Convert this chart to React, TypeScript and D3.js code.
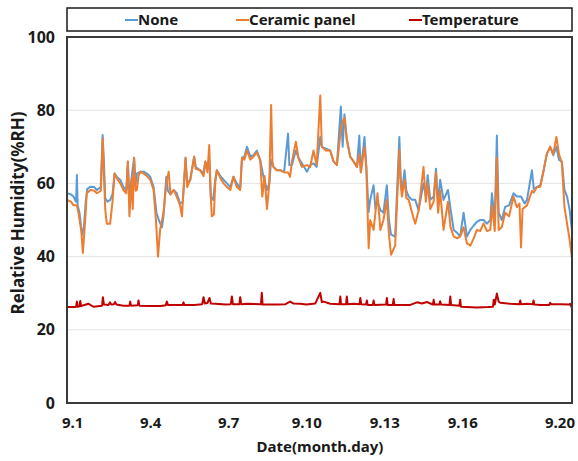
import React, { useRef, useEffect } from 'react';
import * as d3 from 'd3';

// [day of September, value]
const noneRH: [number, number][] = [
  [0.80, 57.3], [0.95, 57], [1.05, 56.4], [1.15, 55], [1.18, 62.3], [1.21, 54], [1.28, 52], [1.38, 46],
  [1.45, 48], [1.52, 55], [1.58, 58.5], [1.70, 59.1], [1.85, 59], [1.95, 58.2], [2.10, 59], [2.17, 73.2],
  [2.22, 66], [2.27, 56], [2.36, 55], [2.46, 55.5], [2.55, 57], [2.63, 62.7], [2.75, 61.5], [2.85, 61],
  [2.97, 59], [3.08, 58.2], [3.14, 66], [3.20, 56], [3.29, 62], [3.38, 67], [3.44, 60], [3.49, 62.7],
  [3.62, 63.2], [3.75, 63.2], [3.87, 62.7], [4.00, 61.8], [4.13, 59], [4.24, 52], [4.33, 50], [4.45, 48],
  [4.51, 50.9], [4.62, 61.8], [4.68, 58], [4.78, 57], [4.90, 58.2], [5.02, 57.3], [5.15, 54.5], [5.25, 55],
  [5.28, 58], [5.36, 67], [5.42, 60], [5.54, 61], [5.69, 67.3], [5.75, 64.5], [5.92, 63.6], [6.05, 62.7],
  [6.12, 66], [6.20, 64], [6.27, 66], [6.33, 56.4], [6.42, 55.5], [6.50, 61], [6.56, 63.6], [6.70, 62],
  [6.82, 61], [6.95, 60], [7.08, 59], [7.20, 61.8], [7.33, 60], [7.46, 58.6], [7.53, 67], [7.62, 67.3],
  [7.72, 70], [7.85, 67.3], [7.97, 67.7], [8.10, 69], [8.23, 66.4], [8.35, 62], [8.49, 58.2], [8.58, 60],
  [8.65, 66.4], [8.74, 64.5], [8.87, 63.6], [9.00, 63.6], [9.15, 63.2], [9.30, 73.6], [9.35, 65], [9.45, 65],
  [9.60, 69], [9.70, 67], [9.83, 65.5], [10.03, 63.2], [10.15, 65], [10.28, 65.5], [10.40, 64.5], [10.54, 72.7],
  [10.60, 70], [10.75, 69.5], [10.92, 69], [11.05, 66], [11.18, 65], [11.33, 81], [11.40, 70], [11.47, 78.9],
  [11.56, 72], [11.69, 67.3], [11.82, 66], [11.95, 64.5], [12.04, 73.1], [12.10, 63.2], [12.24, 72.7], [12.31, 64.5],
  [12.40, 52.2], [12.46, 55.5], [12.59, 59.5], [12.66, 53], [12.74, 55], [12.85, 52.7], [12.97, 52], [13.10, 59.5],
  [13.18, 50], [13.26, 46], [13.42, 45.5], [13.58, 72.7], [13.63, 62], [13.68, 57.3], [13.78, 63.6], [13.85, 58],
  [13.94, 56.4], [14.07, 55.5], [14.19, 55.5], [14.32, 52.7], [14.51, 60], [14.60, 56.4], [14.67, 62.3], [14.77, 55.5],
  [14.90, 56.4], [14.99, 64], [15.07, 54.5], [15.15, 61], [15.28, 55.5], [15.45, 58.2], [15.55, 53], [15.67, 47.3],
  [15.80, 46.5], [15.92, 45.5], [16.05, 52], [16.18, 45.5], [16.31, 47.3], [16.44, 48.5], [16.56, 49.5], [16.69, 50],
  [16.82, 50], [16.95, 49], [17.08, 50], [17.14, 57.3], [17.25, 50], [17.33, 73.1], [17.40, 52], [17.52, 50],
  [17.65, 53.6], [17.80, 54], [17.97, 57.3], [18.10, 56.4], [18.26, 56.4], [18.40, 54.5], [18.49, 55.5], [18.68, 63.6],
  [18.75, 58.5], [18.87, 59], [19.00, 59.5], [19.13, 63.6], [19.25, 68], [19.38, 70], [19.50, 67.7], [19.62, 70],
  [19.72, 66.4], [19.83, 66], [19.93, 58.2], [20.03, 56.4], [20.13, 52.7], [20.22, 47],
];

const ceramicRH: [number, number][] = [
  [0.80, 55.5], [0.95, 55], [1.05, 54], [1.18, 54], [1.24, 52], [1.35, 47], [1.41, 41], [1.50, 50],
  [1.56, 57.3], [1.70, 58.2], [1.85, 58], [1.95, 57.3], [2.10, 58], [2.17, 72.3], [2.22, 62], [2.27, 53],
  [2.33, 49], [2.46, 49], [2.55, 55], [2.63, 62.7], [2.75, 61], [2.85, 60], [2.97, 58.2], [3.08, 57.3],
  [3.14, 66], [3.20, 51], [3.29, 61.5], [3.33, 53], [3.38, 67], [3.44, 58], [3.49, 58.2], [3.55, 62],
  [3.62, 63.2], [3.75, 62.7], [3.87, 62], [4.00, 61], [4.13, 58.2], [4.22, 50], [4.30, 40], [4.38, 47.3],
  [4.51, 52], [4.62, 60], [4.71, 63.2], [4.78, 57], [4.90, 58.2], [5.02, 56.4], [5.15, 54], [5.22, 51],
  [5.28, 58], [5.36, 67], [5.42, 59], [5.54, 61], [5.69, 67.3], [5.75, 64], [5.92, 63.6], [6.05, 62],
  [6.12, 66], [6.20, 63], [6.27, 70.5], [6.33, 56], [6.37, 51], [6.45, 51.5], [6.50, 60], [6.56, 63.6],
  [6.70, 61.5], [6.82, 60], [6.95, 59], [7.08, 58.2], [7.20, 61.8], [7.33, 59], [7.46, 58.2], [7.53, 67],
  [7.62, 66.5], [7.72, 69], [7.85, 66.5], [7.97, 67.3], [8.10, 68.5], [8.23, 66.4], [8.31, 56.4], [8.40, 62],
  [8.49, 53], [8.58, 60], [8.65, 81.4], [8.70, 66], [8.74, 64.5], [8.87, 63.6], [9.00, 63.6], [9.15, 63],
  [9.30, 63], [9.38, 61.8], [9.45, 66], [9.60, 71.4], [9.70, 67], [9.83, 64.5], [10.03, 65], [10.15, 64.5],
  [10.28, 69], [10.40, 65], [10.47, 74.5], [10.54, 84], [10.60, 70], [10.75, 69], [10.92, 69], [11.05, 66],
  [11.18, 65], [11.35, 76], [11.47, 78], [11.56, 72], [11.69, 67.3], [11.82, 66], [11.95, 64.5], [12.04, 68],
  [12.10, 63], [12.24, 70], [12.31, 64.5], [12.40, 42.3], [12.46, 50], [12.59, 47.3], [12.74, 57.3], [12.85, 47.3],
  [12.97, 50], [13.10, 55.5], [13.18, 46], [13.26, 40.5], [13.42, 43], [13.58, 69.1], [13.63, 60], [13.68, 56.4],
  [13.78, 61], [13.85, 56], [13.94, 55.5], [14.07, 52], [14.19, 49], [14.32, 52.5], [14.51, 64.5], [14.60, 55],
  [14.67, 60], [14.77, 53], [14.90, 55], [14.99, 63], [15.07, 52], [15.15, 58], [15.28, 47.3], [15.45, 55],
  [15.55, 48], [15.67, 45.5], [15.80, 45], [15.92, 45.5], [16.05, 48], [16.18, 43.6], [16.31, 43], [16.44, 45],
  [16.56, 47.3], [16.69, 47], [16.82, 49.1], [16.95, 47], [17.08, 47.3], [17.14, 54], [17.25, 47], [17.33, 67],
  [17.40, 47.3], [17.52, 48], [17.65, 52], [17.80, 51], [17.97, 56.4], [18.10, 53.5], [18.20, 54.5], [18.26, 42.5],
  [18.32, 53], [18.49, 54], [18.68, 58], [18.75, 57.5], [18.87, 59], [19.00, 59.1], [19.13, 63.6], [19.25, 68],
  [19.38, 70], [19.50, 68], [19.62, 72.7], [19.72, 68], [19.83, 65.5], [19.93, 53.6], [20.03, 49], [20.13, 44.5],
  [20.22, 39.5],
];

const temperature: [number, number][] = [
  [0.80, 26.2], [1.10, 26.2], [1.15, 26.3], [1.18, 27.7], [1.21, 26.3], [1.28, 26.4], [1.31, 27.9], [1.34, 26.5],
  [1.63, 27.1], [1.82, 26.3], [2.15, 26.6], [2.18, 28.9], [2.22, 26.9], [2.40, 26.8], [2.45, 27.5], [2.50, 26.9],
  [2.60, 27.0], [2.65, 27.6], [2.70, 26.9], [2.97, 26.6], [3.20, 26.6], [3.23, 27.7], [3.26, 26.6], [3.52, 26.7],
  [3.55, 28.0], [3.58, 26.6], [4.0, 26.5], [4.4, 26.5], [4.6, 26.7], [4.64, 27.7], [4.68, 26.8], [5.0, 26.8],
  [5.25, 26.8], [5.28, 27.5], [5.31, 26.8], [5.7, 26.8], [6.0, 27.0], [6.05, 28.9], [6.10, 27.2], [6.20, 27.3],
  [6.28, 28.7], [6.33, 27.2], [6.50, 27.1], [6.90, 26.9], [7.10, 27.0], [7.14, 29.1], [7.18, 27.0], [7.43, 27.0],
  [7.46, 28.9], [7.50, 27.0], [7.72, 27.1], [8.26, 27.0], [8.29, 30.1], [8.32, 26.9], [8.87, 26.9], [9.20, 27.0],
  [9.38, 27.7], [9.50, 27.2], [9.77, 27.1], [10.0, 26.9], [10.35, 27.2], [10.54, 30.1], [10.60, 27.6], [10.67, 27.7],
  [10.92, 27.1], [11.28, 27.0], [11.31, 29.1], [11.34, 27.0], [11.53, 27.0], [11.56, 29.1], [11.59, 27.0], [11.82, 27.1],
  [12.05, 27.0], [12.08, 28.7], [12.11, 27.0], [12.30, 26.9], [12.33, 28.0], [12.36, 26.8], [12.56, 26.8], [12.59, 28.0],
  [12.62, 26.8], [13.07, 26.9], [13.10, 28.7], [13.13, 26.8], [13.33, 26.8], [13.36, 28.4], [13.39, 26.8], [13.62, 26.8],
  [14.0, 26.8], [14.26, 27.5], [14.45, 27.2], [14.64, 27.6], [14.87, 26.9], [14.90, 28.2], [14.93, 26.9], [15.12, 26.9],
  [15.15, 27.8], [15.18, 26.9], [15.51, 26.8], [15.54, 29.1], [15.57, 26.8], [15.89, 26.6], [15.92, 28.2], [15.95, 26.3],
  [16.56, 26.1], [17.0, 26.2], [17.18, 26.3], [17.21, 28.2], [17.25, 26.9], [17.33, 29.9], [17.40, 27.7], [17.46, 27.4],
  [17.85, 27.1], [18.20, 27.0], [18.23, 28.0], [18.26, 27.0], [18.49, 27.1], [18.71, 27.0], [18.74, 28.0], [18.77, 26.9],
  [19.00, 26.8], [19.35, 26.8], [19.38, 27.4], [19.42, 27.0], [19.77, 27.0], [20.12, 26.9], [20.15, 27.1], [20.22, 25.9],
];

const xTicks = [1, 4, 7, 10, 13, 16, 20];
const yTicks = [0, 20, 40, 60, 80, 100];
const seriesNames = ["None", "Ceramic panel", "Temperature"];
const seriesColors = ["#5b9bd5", "#ed7d31", "#c00000"];

const FONT = "'Noto Sans', 'Open Sans', sans-serif";

function HumidityChart() {
  const svgRef = useRef<SVGSVGElement>(null);

  useEffect(() => {
    const svg = d3.select(svgRef.current);
    svg.selectAll("*").remove();

    const width = 578;
    const height = 461;
    const margin = { top: 37, right: 6, bottom: 58, left: 67 };

    const x = d3.scaleLinear()
      .domain([0.8, 20.22])
      .range([margin.left, width - margin.right]);

    const y = d3.scaleLinear()
      .domain([0, 100])
      .range([height - margin.bottom, margin.top]);

    svg.attr("width", width).attr("height", height);

    // gridlines
    svg.append("g")
      .selectAll("line")
      .data(yTicks.filter(t => t > 0 && t < 100))
      .enter()
      .append("line")
      .attr("x1", x.range()[0])
      .attr("x2", x.range()[1])
      .attr("y1", d => y(d))
      .attr("y2", d => y(d))
      .attr("stroke", "#e3e3e3")
      .attr("stroke-width", 1);

    const line = d3.line<[number, number]>()
      .x(d => x(d[0]))
      .y(d => y(d[1]));

    [noneRH, ceramicRH, temperature].forEach((s, i) => {
      svg.append("path")
        .datum(s)
        .attr("fill", "none")
        .attr("stroke", seriesColors[i])
        .attr("stroke-width", 2)
        .attr("stroke-linejoin", "round")
        .attr("d", line);
    });

    // plot frame
    svg.append("rect")
      .attr("x", x.range()[0])
      .attr("y", y(100))
      .attr("width", x.range()[1] - x.range()[0])
      .attr("height", y(0) - y(100))
      .attr("fill", "none")
      .attr("stroke", "#3a3a3a")
      .attr("stroke-width", 2);

    const yAxis = svg.append("g")
      .attr("transform", `translate(${margin.left}, 0)`)
      .call(d3.axisLeft(y).tickValues(yTicks).tickSize(0).tickPadding(12));
    yAxis.select(".domain").remove();
    yAxis.selectAll("text")
      .style("font-family", FONT)
      .style("font-size", "16px")
      .style("font-weight", "bold")
      .attr("fill", "#1a1a1a");

    const xAxis = svg.append("g")
      .attr("transform", `translate(0, ${height - margin.bottom})`)
      .call(d3.axisBottom(x).tickValues(xTicks).tickSize(0).tickPadding(14)
        .tickFormat(d => `9.${d}`));
    xAxis.select(".domain").remove();
    xAxis.selectAll("text")
      .style("font-family", FONT)
      .style("font-size", "15px")
      .style("font-weight", "bold")
      .attr("fill", "#1a1a1a")
      .attr("dx", (d, i) => (i === xTicks.length - 1 ? "-0.45em" : "0"));

    svg.append("text")
      .attr("x", 320)
      .attr("y", 452)
      .attr("text-anchor", "middle")
      .style("font-family", FONT)
      .style("font-size", "15px")
      .style("font-weight", "bold")
      .attr("fill", "#1a1a1a")
      .text("Date(month.day)");

    svg.append("text")
      .attr("x", -213)
      .attr("y", 24)
      .attr("transform", "rotate(-90)")
      .attr("text-anchor", "middle")
      .style("font-family", FONT)
      .style("font-size", "17px")
      .style("font-weight", "bold")
      .attr("fill", "#1a1a1a")
      .text("Relative Humidity(%RH)");

    // legend
    svg.append("rect")
      .attr("x", 67)
      .attr("y", 8)
      .attr("width", 505)
      .attr("height", 23)
      .attr("fill", "white")
      .attr("stroke", "#1a1a1a")
      .attr("stroke-width", 1.5);

    const legendX = [125, 236, 409];
    seriesNames.forEach((name, i) => {
      const g = svg.append("g").attr("transform", `translate(${legendX[i]}, 20)`);
      g.append("line")
        .attr("x1", 0).attr("x2", 13)
        .attr("stroke", seriesColors[i])
        .attr("stroke-width", 2);
      g.append("text")
        .attr("x", 13)
        .attr("dy", "0.35em")
        .style("font-family", FONT)
        .style("font-size", "15px")
        .style("font-weight", "bold")
        .attr("fill", "#1a1a1a")
        .text(name);
    });
  }, []);

  return <svg ref={svgRef} style={{ position: "absolute", left: 0, top: 0 }}></svg>;
}

export default function App() {
  return <HumidityChart />;
}
